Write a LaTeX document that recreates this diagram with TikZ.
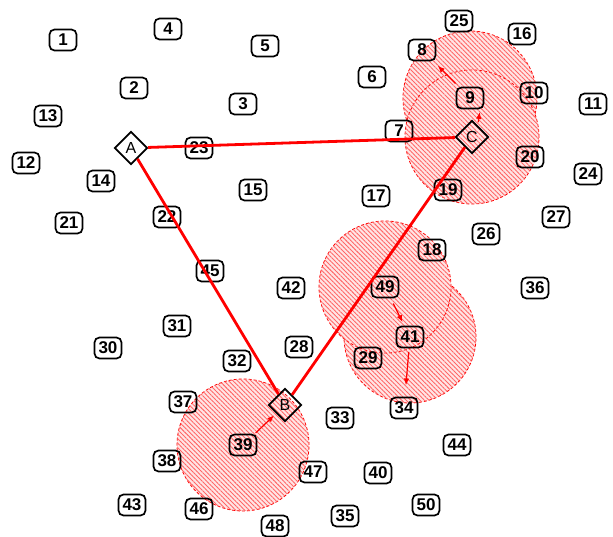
\documentclass[tikz,border=0pt]{standalone}
\usepackage{fontspec}
\setmainfont{Liberation Sans}
\usetikzlibrary{arrows.meta,calc,patterns.meta,shapes.geometric}
\pgfdeclarelayer{bg}
\pgfsetlayers{bg,main}

\tikzset{
  num/.style={draw,line width=1.7pt,rounded corners=5pt,minimum width=27pt,minimum height=21pt,
    inner sep=2pt,font=\fontsize{17}{17}\selectfont\bfseries},
  hub/.style={draw,diamond,line width=1.7pt,minimum size=33pt,inner sep=0pt,
    font=\fontsize{16}{16}\selectfont},
  zone/.style={draw=red,line width=0.8pt,dash pattern=on 3pt off 2pt,fill=red!10,
    postaction={pattern={Lines[angle=-45,distance=3.2pt,line width=0.9pt]},pattern color=red!60}},
  link/.style={red,line width=2.8pt},
  move/.style={red,line width=1.2pt,-{Latex[length=2.4mm,width=2mm]}}
}

\begin{document}
\begin{tikzpicture}[x=1pt,y=-1pt]
  \useasboundingbox (0,0) rectangle (613,537);
  % numbered points
  \foreach \i/\x/\y in {1/63/40,2/134/88,3/243/104,4/168/29,5/265/46,6/372/77,7/399/131,
      8/422/50,9/470/98,10/534/93,11/593/104,12/26/163,13/48/116,14/101/181,15/253/190,
      16/522/34,17/376/196,18/432/250,19/448/190,20/530/157,21/69/223,22/167/217,
      23/199/148,24/588/174,25/459/21,26/486/234,27/556/217,28/299/347,29/368/358,
      30/108/348,31/177/326,32/237/361,33/340/418,34/404/408,35/345/516,36/535/288,
      37/183/402,38/167/461,39/243/445,40/378/473,41/410/337,42/291/288,43/132/505,
      44/457/445,45/210/271,46/199/509,47/313/472,48/275/526,49/385/287,50/426/505}{
    \node[num] (n\i) at (\x,\y) {\i};
  }
  % hubs
  \node[hub] (A) at (131,148) {A};
  \node[hub] (B) at (285,405) {B};
  \node[hub] (C) at (472,137) {C};

  % coverage areas
  \begin{pgfonlayer}{bg}
    \draw[zone] (n9) circle (67pt);
    \draw[zone] (C) circle (67pt);
    \draw[zone] (n41) circle (66pt);
    \draw[zone] (n49) circle (66pt);
    \draw[zone] (n39) circle (66pt);
  \end{pgfonlayer}

  \draw[link] (A) -- (C);
  \draw[link] (A) -- (B);
  \draw[link] (B) -- (C);

  % moves
  \draw[move] ($(n9)!0.3!(n8)$) -- ($(n9)!0.67!(n8)$);
  \draw[move] ($(C)!0.38!(n9)+(7,0)$) -- ($(C)!0.64!(n9)+(9,0)$);
  \draw[move] ($(n49)!0.33!(n41)$) -- ($(n49)!0.7!(n41)$);
  \draw[move] ($(n41)!0.21!(n34)$) -- ($(n41)!0.68!(n34)$);
  \draw[move] ($(n39)!0.3!(B)$) -- ($(n39)!0.74!(B)$);
\end{tikzpicture}
\end{document}
